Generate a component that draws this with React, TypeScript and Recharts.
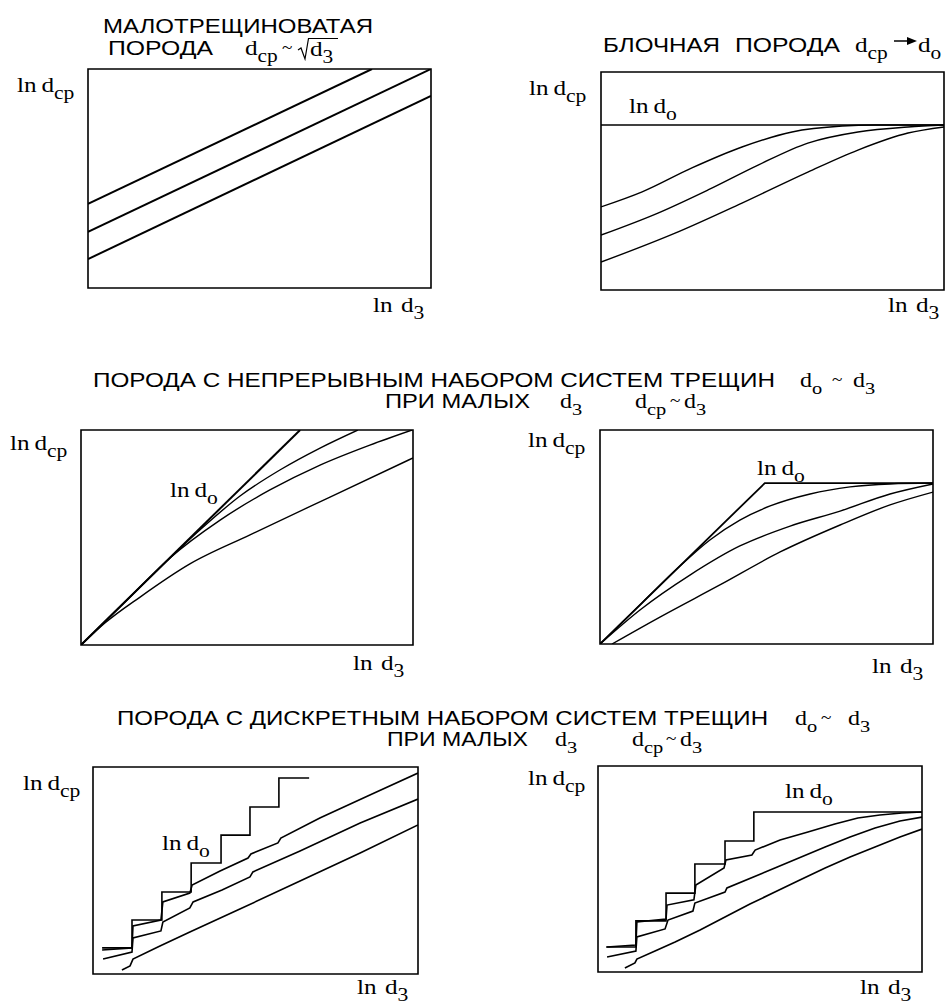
import { LineChart, Line, XAxis, YAxis, ReferenceArea } from 'recharts';

const SERIF = '"Liberation Serif", "Times New Roman", serif';
const SANS = '"Liberation Sans", Arial, sans-serif';

type Pt = [number, number];

// all panels use a 0..100 scale on both axes (ln d3 across, ln dcp up)

// малотрещиноватая порода
const lowFracTop: Pt[] = [[0, 38.4], [82.8, 100]];
const lowFracMid: Pt[] = [[0, 25.6], [100, 100]];
const lowFracLow: Pt[] = [[0, 13.2], [100, 87.7]];

// блочная порода
const blockDo: Pt[] = [[0, 75.7], [100, 75.7]];
const block1: Pt[] = [[0, 38.1], [12, 45], [26.5, 56], [41.1, 65.6], [55.7, 72.5], [70.3, 75.2], [79.9, 75.7], [100, 75.7]];
const block2: Pt[] = [[0, 25.2], [16.6, 35.3], [31.2, 45.9], [45.8, 57.3], [60.3, 67.4], [74.9, 72.5], [89.5, 74.8], [100, 75.7]];
const block3: Pt[] = [[0, 12.8], [21.6, 26.1], [41.1, 39.9], [60.3, 54.1], [74.9, 64.2], [89.5, 72], [100, 74.8]];

// непрерывный набор, без предела
const contDo: Pt[] = [[0, 0], [66, 100]];
const cont1: Pt[] = [[0, 0], [17.8, 27], [35.8, 53.5], [47.9, 69.3], [59.9, 81.4], [72, 91.6], [83.4, 100]];
const cont2: Pt[] = [[0, 0], [14.8, 22.3], [26.8, 40.5], [41.9, 58.1], [56.9, 72.1], [72, 83.7], [87, 93], [99.7, 100]];
const cont3: Pt[] = [[0, 0], [7.2, 10.2], [17.8, 22.3], [32.8, 37.7], [50.9, 51.2], [75, 68.8], [100, 87]];

// непрерывный набор, с пределом do
const contBlockDo: Pt[] = [[0, 0], [49.5, 75.2], [100, 75.2]];
const contBlock1: Pt[] = [[0, 0], [12.6, 19.2], [24, 36.4], [33, 48.6], [42, 57.9], [51.1, 64.5], [63.1, 70.1], [75.1, 73.4], [87.1, 74.8], [100, 75.2]];
const contBlock2: Pt[] = [[0, 0], [12, 15.9], [27, 32.2], [42, 45.8], [57.1, 55.1], [72.1, 62.1], [87.1, 70.1], [100, 74.8]];
const contBlock3: Pt[] = [[3.6, 0], [18, 12.6], [36, 27.6], [54.1, 43], [72.1, 55.6], [87.1, 65], [100, 71]];

// дискретный набор, без предела
const discDo: Pt[] = [[2.8, 12.6], [12, 26.1], [21.2, 39.6], [30.2, 53.6], [39.4, 67.1], [48.3, 80.7], [57.2, 94.7], [66.5, 94.7]];
const disc1: Pt[] = [[2.8, 11.6], [12, 12.6], [12.3, 23.2], [20.9, 26.1], [21.5, 34.8], [29.8, 39.1], [30.5, 43], [39.1, 49.8], [47.7, 56], [48.6, 58], [56.9, 63.3], [57.8, 65.7], [69.8, 75.4], [85.2, 86.5], [100, 97.1]];
const disc2: Pt[] = [[3.1, 7.2], [12, 10.6], [12.3, 17.4], [20.9, 20.8], [21.5, 25.1], [29.8, 31.9], [30.8, 34.8], [39.7, 40.6], [48.3, 46.9], [49.2, 49.3], [63.7, 59.4], [82.2, 72.9], [100, 84.5]];
const disc3: Pt[] = [[8.9, 1.9], [11.4, 3.9], [12.3, 7.2], [20.6, 13.5], [29.8, 20.3], [45.2, 31.4], [63.7, 44.9], [82.2, 58.5], [100, 72]];

// дискретный набор, с пределом do
const discBlockDo: Pt[] = [[2.5, 12.1], [11.7, 24.8], [21, 38.3], [29.9, 52.4], [39.2, 63.6], [48.1, 77.7], [100, 77.7]];
const discBlock1: Pt[] = [[2.8, 12.1], [11.7, 13.1], [12, 24.3], [21, 25.7], [21.3, 32.5], [29.6, 35], [30.2, 42.2], [38.9, 50.5], [39.5, 54.4], [47.5, 56.8], [48.5, 59.2], [56.2, 64.1], [64.8, 68], [73.1, 71.8], [80.2, 74.8], [87, 76.2], [93.8, 77.2], [100, 77.7]];
const discBlock2: Pt[] = [[2.8, 7.3], [11.7, 10.2], [12, 17], [20.7, 20.9], [21.6, 25.2], [29.3, 29.6], [29.9, 33.5], [39.2, 38.8], [39.8, 40.8], [54.6, 50.5], [70.1, 60.7], [77.8, 65.5], [85.5, 69.9], [93.2, 73.3], [100, 75.2]];
const discBlock3: Pt[] = [[8.3, 1.9], [11.4, 4.4], [12, 6.3], [17.6, 10.2], [23.8, 14.6], [31.5, 20.4], [39.2, 26.7], [46.9, 33], [54.6, 38.8], [62.3, 44.7], [70.1, 50.5], [77.8, 55.8], [85.5, 60.7], [93.2, 65.5], [100, 69.4]];

type Series = { pts: Pt[]; type?: 'linear' | 'monotone' | 'stepAfter'; width?: number };

function Panel({ left, top, width, height, series }: { left: number; top: number; width: number; height: number; series: Series[] }) {
  const pad = 3;
  return (
    <div style={{ position: 'absolute', left: left - pad, top: top - pad }}>
      <LineChart width={width + pad * 2} height={height + pad * 2} margin={{ top: pad, right: pad, bottom: pad, left: pad }}>
        <XAxis type="number" dataKey="x" domain={[0, 100]} hide allowDataOverflow />
        <YAxis type="number" domain={[0, 100]} hide allowDataOverflow />
        <ReferenceArea x1={0} x2={100} y1={0} y2={100} fill="none" fillOpacity={0} stroke="#000" strokeWidth={1.6} />
        {series.map((s, i) => (
          <Line
            key={i}
            data={s.pts.map(([x, y]) => ({ x, y }))}
            dataKey="y"
            type={s.type ?? 'monotone'}
            stroke="#000"
            strokeWidth={s.width ?? 1.4}
            dot={false}
            activeDot={false}
            isAnimationActive={false}
          />
        ))}
      </LineChart>
    </div>
  );
}

// the scan's serif glyphs are wider than Liberation Serif, so stretch them a bit
const SX = 1.2;

function D({ x, y, sub, size = 20 }: { x: number; y: number; sub: string; size?: number }) {
  return (
    <g transform={`translate(${x} ${y}) scale(${SX} 1)`}>
      <text x={0} y={0} fontFamily={SERIF} fontSize={size}>
        d
        <tspan fontSize={size * 0.85} dy={size * 0.33}>{sub}</tspan>
      </text>
    </g>
  );
}

function Ln({ x, y, sub, gap = 4 }: { x: number; y: number; sub: string; gap?: number }) {
  return (
    <g transform={`translate(${x} ${y}) scale(${SX} 1)`}>
      <text x={0} y={0} fontFamily={SERIF} fontSize={21}>
        ln
        <tspan dx={gap}>d</tspan>
        <tspan fontSize={18} dy={7}>{sub}</tspan>
      </text>
    </g>
  );
}

function Tilde({ x, y }: { x: number; y: number }) {
  return (
    <g transform={`translate(${x} ${y}) scale(${SX} 1)`}>
      <text x={0} y={0} fontFamily={SERIF} fontSize={16}>~</text>
    </g>
  );
}

function Caps({ x, y, len, children }: { x: number; y: number; len: number; children: string }) {
  return (
    <text x={x} y={y} fontFamily={SANS} fontSize={20} textLength={len} lengthAdjust="spacingAndGlyphs">
      {children}
    </text>
  );
}

export default function App() {
  return (
    <div style={{ position: 'absolute', left: 0, top: 0, width: 950, height: 1007, background: '#fff' }}>
      <Panel left={88} top={69} width={343} height={219} series={[
        { pts: lowFracTop, type: 'linear', width: 2 },
        { pts: lowFracMid, type: 'linear', width: 2 },
        { pts: lowFracLow, type: 'linear', width: 2 },
      ]} />
      <Panel left={601} top={72} width={343} height={218} series={[
        { pts: blockDo, type: 'linear', width: 1.6 },
        { pts: block1 },
        { pts: block2 },
        { pts: block3 },
      ]} />
      <Panel left={81} top={430} width={332} height={215} series={[
        { pts: contDo, type: 'linear', width: 2 },
        { pts: cont1 },
        { pts: cont2 },
        { pts: cont3 },
      ]} />
      <Panel left={600} top={430} width={333} height={214} series={[
        { pts: contBlockDo, type: 'linear', width: 1.8 },
        { pts: contBlock1 },
        { pts: contBlock2 },
        { pts: contBlock3 },
      ]} />
      <Panel left={93} top={767} width={325} height={207} series={[
        { pts: discDo, type: 'stepAfter', width: 1.6 },
        { pts: disc1, type: 'linear', width: 1.6 },
        { pts: disc2, type: 'linear', width: 1.6 },
        { pts: disc3, type: 'linear', width: 1.6 },
      ]} />
      <Panel left={598} top={766} width={324} height={206} series={[
        { pts: discBlockDo, type: 'stepAfter', width: 1.6 },
        { pts: discBlock1, type: 'linear', width: 1.6 },
        { pts: discBlock2, type: 'linear', width: 1.6 },
        { pts: discBlock3, type: 'linear', width: 1.6 },
      ]} />

      <svg width={950} height={1007} style={{ position: 'absolute', left: 0, top: 0, pointerEvents: 'none' }}>
        {/* top left */}
        <Caps x={103} y={33} len={270}>МАЛОТРЕЩИНОВАТАЯ</Caps>
        <Caps x={108} y={55} len={105}>ПОРОДА</Caps>
        <D x={245} y={55} sub="cp" size={21} />
        <Tilde x={282} y={53} />
        <path d="M298,50 L301,48 L305,59 L308.5,38.5 L338,38.5" fill="none" stroke="#000" strokeWidth={1.2} />
        <D x={310} y={56} sub="3" size={21} />
        <Ln x={17} y={92} sub="cp" />
        <Ln x={373} y={312} sub="3" gap={7} />

        {/* top right */}
        <Caps x={603} y={52} len={117}>БЛОЧНАЯ</Caps>
        <Caps x={735} y={52} len={105}>ПОРОДА</Caps>
        <D x={855} y={52} sub="cp" size={21} />
        <line x1={894} y1={41} x2={909} y2={41} stroke="#000" strokeWidth={1.5} />
        <polygon points="907,37 917,41 907,45" fill="#000" />
        <D x={918} y={52} sub="o" size={21} />
        <Ln x={529} y={95} sub="cp" />
        <Ln x={629} y={113} sub="o" />
        <Ln x={888} y={312} sub="3" gap={7} />

        {/* middle titles */}
        <Caps x={93} y={387} len={682}>ПОРОДА С НЕПРЕРЫВНЫМ НАБОРОМ СИСТЕМ ТРЕЩИН</Caps>
        <D x={800} y={387} sub="o" />
        <Tilde x={832} y={385} />
        <D x={853} y={387} sub="3" />
        <Caps x={385} y={408} len={145}>ПРИ МАЛЫХ</Caps>
        <D x={560} y={408} sub="3" />
        <D x={635} y={408} sub="cp" />
        <Tilde x={670} y={406} />
        <D x={684} y={408} sub="3" />

        <Ln x={10} y={450} sub="cp" />
        <Ln x={170} y={497} sub="o" />
        <Ln x={353} y={670} sub="3" gap={7} />
        <Ln x={528} y={447} sub="cp" />
        <Ln x={757} y={475} sub="o" />
        <Ln x={872} y={673} sub="3" gap={7} />

        {/* bottom titles */}
        <Caps x={117} y={725} len={651}>ПОРОДА С ДИСКРЕТНЫМ НАБОРОМ СИСТЕМ ТРЕЩИН</Caps>
        <D x={795} y={725} sub="o" />
        <Tilde x={821} y={723} />
        <D x={848} y={725} sub="3" />
        <Caps x={387} y={746} len={141}>ПРИ МАЛЫХ</Caps>
        <D x={555} y={746} sub="3" />
        <D x={632} y={746} sub="cp" />
        <Tilde x={666} y={744} />
        <D x={680} y={746} sub="3" />

        <Ln x={23} y={790} sub="cp" />
        <Ln x={162} y={850} sub="o" />
        <Ln x={357} y={994} sub="3" gap={7} />
        <Ln x={528} y={785} sub="cp" />
        <Ln x={785} y={798} sub="o" />
        <Ln x={860} y={994} sub="3" gap={7} />
      </svg>
    </div>
  );
}
